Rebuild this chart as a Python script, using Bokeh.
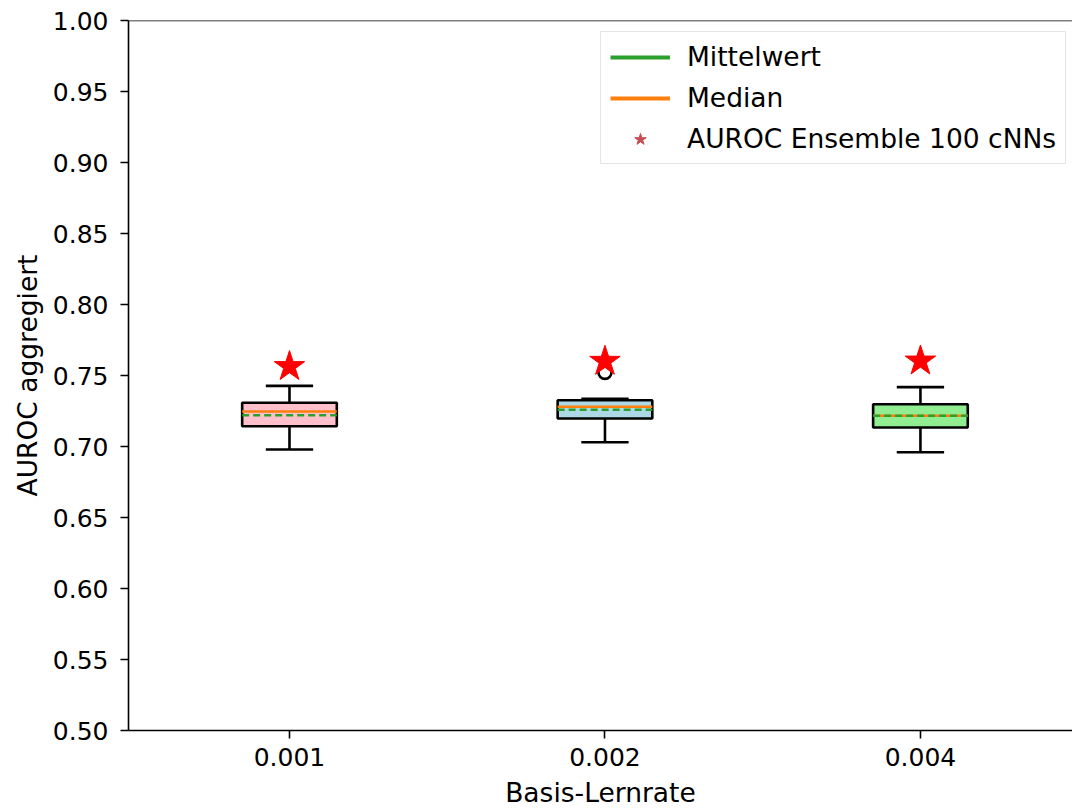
from bokeh.plotting import figure
from bokeh.models import (Span, Legend, LegendItem, FixedTicker, PrintfTickFormatter,
                          ColumnDataSource, Range1d)
from bokeh.embed import file_html
from bokeh.resources import INLINE

# ---- data ----
categories = ["0.001", "0.002", "0.004"]
q1 = [0.7143, 0.7197, 0.7134]
q3 = [0.7308, 0.7326, 0.7298]
medians = [0.7246, 0.7280, 0.7216]
means = [0.7220, 0.7258, 0.7216]
whisker_low = [0.6979, 0.7030, 0.6960]
whisker_high = [0.7427, 0.7336, 0.7418]
flier_cat = ["0.002"]
flier_val = [0.7522]
ensemble = [0.7563, 0.7600, 0.7602]
box_colors = ["#ffc0cb", "#add8e6", "#90ee90"]

FONT = "DejaVu Sans"
FS_TICK = "25px"
FS_LABEL = "26.5px"

pos = list(range(1, len(categories) + 1))
box_w = 0.3
cap_w = 0.15

src = ColumnDataSource(dict(
    x=pos, q1=q1, q3=q3, med=medians, mean=means, lo=whisker_low, hi=whisker_high,
    ens=ensemble, color=box_colors,
    xl=[x - box_w / 2 for x in pos], xr=[x + box_w / 2 for x in pos],
    cl=[x - cap_w / 2 for x in pos], cr=[x + cap_w / 2 for x in pos],
))
fl_src = ColumnDataSource(dict(x=[pos[categories.index(c)] for c in flier_cat], y=flier_val))

p = figure(width=1072, height=812, output_backend="svg", toolbar_location=None,
           x_range=Range1d(0.4897, 3.482), y_range=Range1d(0.5, 1.0),
           min_border_left=128, min_border_top=20, min_border_right=0, min_border_bottom=82)
p.outline_line_color = None
p.xgrid.visible = False
p.ygrid.visible = False
p.background_fill_color = "white"
p.border_fill_color = "white"

# top spine
p.add_layout(Span(location=1.0, dimension="width", line_color="black", line_width=1.6))

# whiskers
p.segment(x0="x", y0="q3", x1="x", y1="hi", source=src, line_color="black", line_width=2.6)
p.segment(x0="x", y0="lo", x1="x", y1="q1", source=src, line_color="black", line_width=2.6)
# caps
p.segment(x0="cl", y0="hi", x1="cr", y1="hi", source=src, line_color="black", line_width=2.6)
p.segment(x0="cl", y0="lo", x1="cr", y1="lo", source=src, line_color="black", line_width=2.6)
# boxes
p.vbar(x="x", width=box_w, bottom="q1", top="q3", source=src, fill_color="color",
       line_color="black", line_width=2.6)
# median and mean
p.segment(x0="xl", y0="med", x1="xr", y1="med", source=src, line_color="#ff7f0e", line_width=2.5)
p.segment(x0="xl", y0="mean", x1="xr", y1="mean", source=src, line_color="#2ca02c",
          line_width=2.5, line_dash="7 4")
# fliers
p.scatter(x="x", y="y", source=fl_src, marker="circle", size=13, fill_color=None,
          line_color="black", line_width=2.6)
# ensemble stars
p.scatter(x="x", y="ens", source=src, marker="star", size=32, fill_color="red",
          line_color="red", line_width=1)

# legend proxies (points placed outside the visible range)
off = ColumnDataSource(dict(x=[-10, -11], y=[-10, -11]))
r_mean = p.line(x="x", y="y", source=off, line_color="#2ca02c", line_width=4)
r_med = p.line(x="x", y="y", source=off, line_color="#ff7f0e", line_width=4)
r_star = p.scatter(x="x", y="y", source=off, marker="star", size=15,
                   fill_color="#c44e52", line_color="#c44e52")
legend = Legend(items=[LegendItem(label="Mittelwert", renderers=[r_mean]),
                       LegendItem(label="Median", renderers=[r_med]),
                       LegendItem(label="AUROC Ensemble 100 cNNs", renderers=[r_star])],
                location=(472, 566))
legend.label_text_font = FONT
legend.label_text_font_size = FS_LABEL
legend.label_text_color = "black"
legend.glyph_width = 60
legend.glyph_height = 30
legend.label_height = 30
legend.label_standoff = 17
legend.spacing = 10
legend.padding = 9
legend.border_line_color = "#cccccc"
legend.border_line_width = 1.5
legend.background_fill_alpha = 0.8
p.add_layout(legend)

# axes
for ax in (p.xaxis[0], p.yaxis[0]):
    ax.axis_line_width = 1.6
    ax.axis_line_color = "black"
    ax.major_tick_line_width = 1.6
    ax.major_tick_line_color = "black"
    ax.major_tick_out = 8
    ax.major_tick_in = 0
    ax.minor_tick_line_color = None
    ax.major_label_text_font = FONT
    ax.major_label_text_font_size = FS_TICK
    ax.major_label_text_color = "black"
    ax.axis_label_text_font = FONT
    ax.axis_label_text_font_size = FS_LABEL
    ax.axis_label_text_font_style = "normal"
    ax.axis_label_text_color = "black"

p.yaxis.ticker = FixedTicker(ticks=[0.5 + 0.05 * i for i in range(11)])
p.yaxis.formatter = PrintfTickFormatter(format="%.2f")
p.yaxis.axis_label = "AUROC aggregiert"
p.yaxis.major_label_standoff = 12
p.yaxis.axis_label_standoff = 7

p.xaxis.ticker = FixedTicker(ticks=pos)
p.xaxis.major_label_overrides = {x: c for x, c in zip(pos, categories)}
p.xaxis.axis_label = "Basis-Lernrate"
p.xaxis.major_label_standoff = 9
p.xaxis.axis_label_standoff = 8

open("out.html", "w").write(file_html(p, INLINE))
